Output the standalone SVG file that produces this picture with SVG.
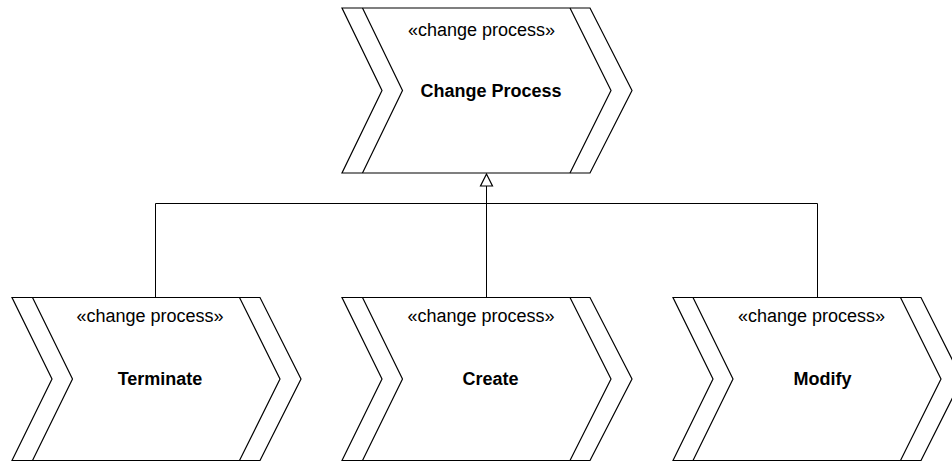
<svg xmlns="http://www.w3.org/2000/svg" width="952" height="461" viewBox="0 0 952 461">
  <style>
    .shape { fill: #ffffff; stroke: #000000; stroke-width: 1.2; stroke-linejoin: miter; }
    .band { fill: none; stroke: #000000; stroke-width: 1.2; }
    .stereo { font-family: "Liberation Sans", Arial, sans-serif; font-size: 18px; fill: #000000; text-anchor: middle; }
    .name { font-family: "Liberation Sans", Arial, sans-serif; font-size: 18px; font-weight: bold; fill: #000000; text-anchor: middle; }
    .link { fill: none; stroke: #000000; stroke-width: 1; }
  </style>
  <rect width="952" height="461" fill="#ffffff"/>

  <!-- connectors: generalization tree -->
  <g id="connectors">
    <path class="link" d="M155.5,297 L155.5,203.5 L817.5,203.5 L817.5,297"/>
    <path class="link" d="M486.5,297 L486.5,186"/>
    <path d="M486.5,174 L480.5,186 L492.5,186 Z" fill="#ffffff" stroke="#000000" stroke-width="1.2"/>
  </g>

  <!-- parent process -->
  <g id="change-process">
    <path class="shape" d="M342,8 L590,8 L632,90.5 L590,173 L342,173 L382,90.5 Z"/>
    <path class="band" d="M362.5,8 L402.5,90.5 L362.5,173 M570,8 L611,90.5 L570,173"/>
    <text class="stereo" x="481.5" y="36">«change process»</text>
    <text class="name" x="491" y="97">Change Process</text>
  </g>

  <!-- child processes -->
  <g id="terminate">
    <path class="shape" d="M12,297.5 L260,297.5 L301,379 L260,460.5 L12,460.5 L52,379 Z"/>
    <path class="band" d="M32.5,297.5 L72.5,379 L32.5,460.5 M239.5,297.5 L280,379 L239.5,460.5"/>
    <text class="stereo" x="150" y="322">«change process»</text>
    <text class="name" x="160" y="385">Terminate</text>
  </g>

  <g id="create">
    <path class="shape" d="M342,297.5 L590,297.5 L632,379 L590,460.5 L342,460.5 L382,379 Z"/>
    <path class="band" d="M362.5,297.5 L402.5,379 L362.5,460.5 M570,297.5 L611,379 L570,460.5"/>
    <text class="stereo" x="481" y="322">«change process»</text>
    <text class="name" x="490.5" y="385">Create</text>
  </g>

  <g id="modify">
    <path class="shape" d="M673,297.5 L921,297.5 L962,379 L921,460.5 L673,460.5 L713,379 Z"/>
    <path class="band" d="M693,297.5 L733,379 L693,460.5 M900.5,297.5 L941,379 L900.5,460.5"/>
    <text class="stereo" x="811.5" y="322">«change process»</text>
    <text class="name" x="822.5" y="385">Modify</text>
  </g>
</svg>
